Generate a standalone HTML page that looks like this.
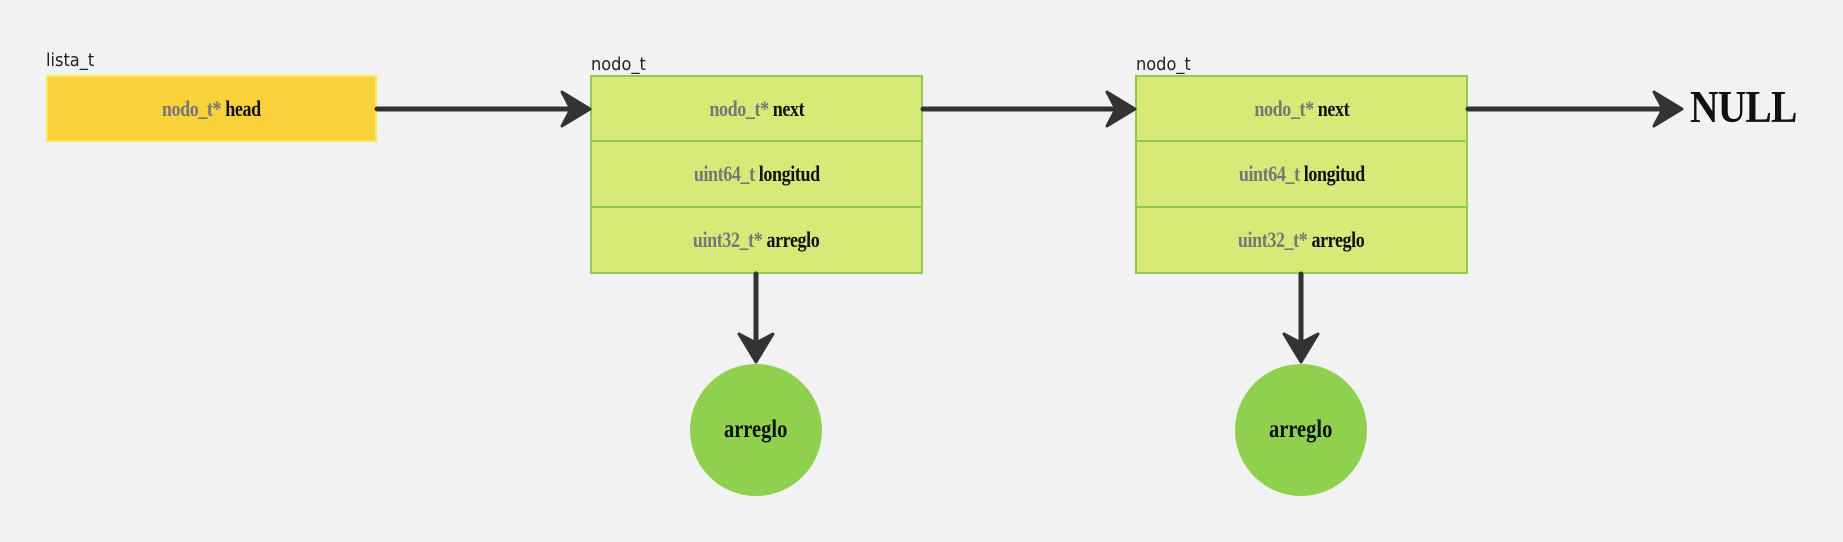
<!DOCTYPE html>
<html><head><meta charset="utf-8"><style>
html,body{margin:0;padding:0;background:#f2f2f2;}
body{width:1843px;height:542px;position:relative;overflow:hidden;font-family:"Liberation Serif",serif;}
.lbl{position:absolute;font-family:"DejaVu Sans","Liberation Sans",sans-serif;font-size:18px;color:#222;transform:scaleX(0.9);transform-origin:left;}
.box{position:absolute;box-sizing:border-box;display:flex;align-items:center;justify-content:center;font-weight:bold;font-size:22px;letter-spacing:-0.5px;}
.box span.w{display:inline-block;transform:scaleX(0.82);white-space:nowrap;}
.y{background:#f9d13b;border:2px solid #fbe85a;}
.g{background:#d7ea77;border:2px solid #8fcc4d;}
.t{color:#777;}
.k{color:#111;}
.c{position:absolute;border-radius:50%;background:#8fd14f;display:flex;align-items:center;justify-content:center;font-weight:bold;font-size:25px;color:#111;}
.c span{display:inline-block;transform:scaleX(0.82);}
</style></head><body>
<div class="lbl" style="left:46px;top:50px;">lista_t</div>
<div class="lbl" style="left:591px;top:54px;">nodo_t</div>
<div class="lbl" style="left:1136px;top:54px;">nodo_t</div>

<div class="box y" style="left:46px;top:75px;width:331px;height:67px;"><span class="w"><span class="t">nodo_t*</span> <span class="k">head</span></span></div>

<div class="box g" style="left:590px;top:75px;width:333px;height:67px;"><span class="w"><span class="t">nodo_t*</span> <span class="k">next</span></span></div>
<div class="box g" style="left:590px;top:140px;width:333px;height:68px;"><span class="w"><span class="t">uint64_t</span> <span class="k">longitud</span></span></div>
<div class="box g" style="left:590px;top:206px;width:333px;height:68px;"><span class="w"><span class="t">uint32_t*</span> <span class="k">arreglo</span></span></div>

<div class="box g" style="left:1135px;top:75px;width:333px;height:67px;"><span class="w"><span class="t">nodo_t*</span> <span class="k">next</span></span></div>
<div class="box g" style="left:1135px;top:140px;width:333px;height:68px;"><span class="w"><span class="t">uint64_t</span> <span class="k">longitud</span></span></div>
<div class="box g" style="left:1135px;top:206px;width:333px;height:68px;"><span class="w"><span class="t">uint32_t*</span> <span class="k">arreglo</span></span></div>

<div class="c" style="left:690px;top:364px;width:132px;height:132px;"><span>arreglo</span></div>
<div class="c" style="left:1235px;top:364px;width:132px;height:132px;"><span>arreglo</span></div>

<div style="position:absolute;left:1690px;top:80px;font-size:46px;font-weight:bold;color:#111;letter-spacing:-1px;transform:scaleX(0.86);transform-origin:left;">NULL</div>

<svg width="1843" height="542" style="position:absolute;left:0;top:0;" fill="none" stroke="#333" stroke-linecap="round" stroke-linejoin="round">
<g stroke-width="5">
<line x1="377" y1="109" x2="580" y2="109"/>
<line x1="923" y1="109" x2="1125" y2="109"/>
<line x1="1468" y1="109" x2="1672" y2="109"/>
<line x1="756" y1="274" x2="756" y2="350"/>
<line x1="1301" y1="274" x2="1301" y2="350"/>
</g>
<g fill="#333" stroke-width="3">
<polygon points="562,92 590,109 562,126 571,109"/>
<polygon points="1107,92 1135,109 1107,126 1116,109"/>
<polygon points="1654,92 1682,109 1654,126 1663,109"/>
<polygon points="739,334 756,362 773,334 756,343"/>
<polygon points="1284,334 1301,362 1318,334 1301,343"/>
</g>
</svg>
</body></html>
